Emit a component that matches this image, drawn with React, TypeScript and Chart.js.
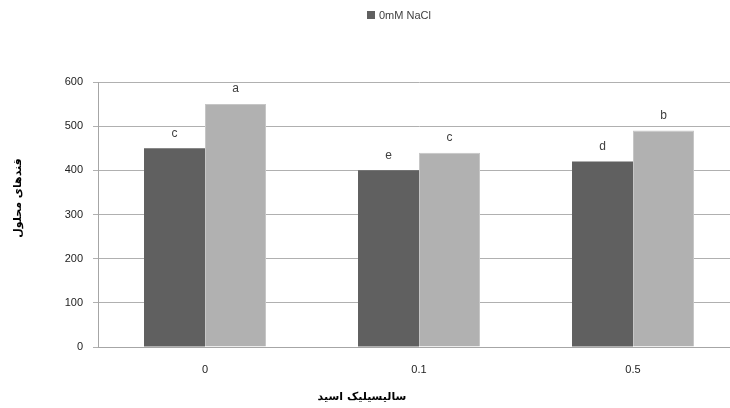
import React, { useEffect, useRef } from "react";
import { Chart, registerables } from "chart.js";

Chart.register(...registerables);

const categories = ["0", "0.1", "0.5"];
const seriesLabels = ["0mM NaCl", "100mM NaCl"];
const seriesA = [450, 400, 420];
const seriesB = [550, 440, 490];
const lettersA = ["c", "e", "d"];
const lettersB = ["a", "c", "b"];
const yTitle = "قندهای محلول";
const xTitle = "سالیسیلیک اسید";

const DARK = "#606060";
const LIGHT = "#b1b1b1";

export default function App() {
  const ref = useRef<HTMLCanvasElement>(null);
  useEffect(() => {
    if (!ref.current) return;
    const letters = [lettersA, lettersB];
    const overlay = {
      id: "overlay",
      afterDatasetsDraw(chart: any) {
        const ctx = chart.ctx;
        ctx.save();
        ctx.font = "12px 'Liberation Sans', Arial, sans-serif";
        ctx.fillStyle = "#404040";
        ctx.textAlign = "center";
        ctx.textBaseline = "middle";
        chart.data.datasets.forEach((_: any, di: number) => {
          const meta = chart.getDatasetMeta(di);
          meta.data.forEach((bar: any, i: number) => {
            ctx.fillText(letters[di][i], bar.x, bar.y - 15);
          });
        });
        // legend (first entry only, as in reference)
        const ds = chart.data.datasets[0];
        ctx.fillStyle = ds.backgroundColor;
        ctx.fillRect(367, 11, 8, 8);
        ctx.font = "11px 'Liberation Sans', Arial, sans-serif";
        ctx.fillStyle = "#404040";
        ctx.textAlign = "left";
        ctx.fillText(ds.label, 379, 15.5);
        // axis titles
        ctx.font = "bold 11px 'DejaVu Sans', sans-serif";
        ctx.fillStyle = "#000";
        ctx.textAlign = "center";
        ctx.fillText(xTitle, 362, 397);
        ctx.translate(18, 198);
        ctx.rotate(-Math.PI / 2);
        ctx.fillText(yTitle, 0, 0);
        ctx.restore();
      },
    };
    const chart = new Chart(ref.current, {
      type: "bar",
      data: {
        labels: categories,
        datasets: [
          {
            label: seriesLabels[0],
            data: seriesA,
            backgroundColor: DARK,
            borderColor: DARK,
            borderWidth: 0,
          },
          {
            label: seriesLabels[1],
            data: seriesB,
            backgroundColor: LIGHT,
            borderColor: "#c6c6c6",
            borderWidth: 1,
          },
        ],
      },
      options: {
        responsive: false,
        animation: false,
        layout: { padding: { top: 82, right: 20, left: 0, bottom: 0 } },
        datasets: {
          bar: { categoryPercentage: 0.57, barPercentage: 1.0 },
        },
        plugins: {
          legend: { display: false },
          tooltip: { enabled: false },
        },
        scales: {
          x: {
            grid: { display: false, drawTicks: false },
            border: { display: true, color: "#a6a6a6", width: 1 },
            ticks: {
              padding: 16,
              color: "#222",
              font: { family: "'Liberation Sans', Arial, sans-serif", size: 11 },
            },
            afterFit(scale: any) {
              scale.height = 61;
            },
          },
          y: {
            min: 0,
            max: 600,
            ticks: {
              stepSize: 100,
              padding: 10,
              color: "#222",
              font: { family: "'Liberation Sans', Arial, sans-serif", size: 11 },
            },
            grid: { color: "#b0b0b0", tickLength: 5, lineWidth: 1 },
            border: { display: true, color: "#a6a6a6", width: 1 },
            afterFit(scale: any) {
              scale.width = 98;
            },
          },
        },
      },
      plugins: [overlay],
    });
    return () => chart.destroy();
  }, []);
  return (
    <div
      style={{
        position: "fixed",
        left: 0,
        top: 0,
        width: 730,
        height: 408,
        overflow: "hidden",
        background: "#fff",
      }}
    >
      <canvas ref={ref} width={760} height={408} style={{ display: "block" }} />
    </div>
  );
}
